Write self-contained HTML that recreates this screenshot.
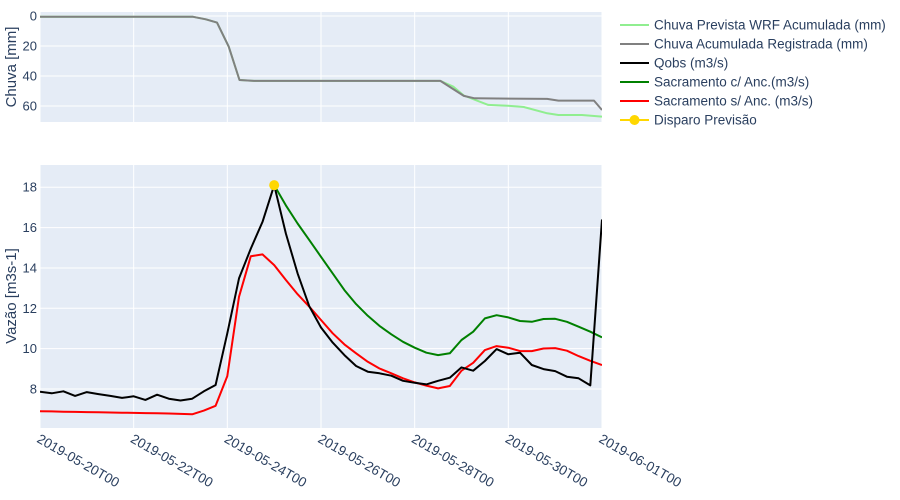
<!DOCTYPE html>
<html><head><meta charset="utf-8">
<style>
html,body{margin:0;padding:0;background:#fff;}
svg{display:block;font-family:"Liberation Sans",sans-serif;}
</style></head>
<body>
<svg id="chart" width="900" height="500" viewBox="0 0 900 500" xmlns="http://www.w3.org/2000/svg"></svg>
<script>
// ---------- data ----------
const xTickLabels = ["2019-05-20T00","2019-05-22T00","2019-05-24T00","2019-05-26T00","2019-05-28T00","2019-05-30T00","2019-06-01T00"];
const xTickDays = [0,2,4,6,8,10,12];
const topTicks = [0,20,40,60];
const bottomTicks = [8,10,12,14,16,18];

// flow series: 6-hourly from 2019-05-20T00 (day offset = index*0.25)
const qobs = [7.87,7.79,7.89,7.66,7.85,7.75,7.66,7.56,7.64,7.46,7.72,7.52,7.43,7.52,7.89,8.20,10.76,13.48,14.96,16.28,18.1,15.7,13.73,12.1,11.05,10.3,9.68,9.14,8.86,8.78,8.66,8.41,8.31,8.23,8.41,8.56,9.07,8.91,9.39,9.98,9.72,9.8,9.19,8.99,8.89,8.61,8.53,8.18,16.4];
const sacSemStart = 0;
const sacSem = [6.9,6.89,6.88,6.87,6.86,6.85,6.84,6.83,6.82,6.81,6.80,6.79,6.77,6.75,6.93,7.17,8.64,12.57,14.58,14.67,14.14,13.4,12.7,12.08,11.42,10.76,10.21,9.77,9.35,9.02,8.78,8.53,8.33,8.17,8.03,8.15,8.91,9.30,9.93,10.13,10.05,9.88,9.88,10.01,10.03,9.9,9.63,9.4,9.19];
const sacComStart = 20;
const sacCom = [18.1,17.1,16.2,15.38,14.55,13.73,12.9,12.21,11.63,11.13,10.71,10.34,10.05,9.8,9.68,9.77,10.43,10.84,11.5,11.66,11.55,11.37,11.33,11.47,11.48,11.33,11.09,10.84,10.56];
const triggerDay = [5];
const triggerValue = [18.1];

// rainfall (day offsets, accumulated mm)
const rainObsDays = [0,3.27,3.54,3.78,4.03,4.26,4.57,8.55,9.05,9.28,10.83,11.07,11.83,12];
const rainObs = [0.5,0.5,2.2,4.4,20.4,42.7,43.3,43.3,53.3,54.9,55.3,56.4,56.4,62.7];
const rainWrfDays = [0,3.27,3.54,3.78,4.03,4.26,4.57,8.55,8.82,9.05,9.57,9.99,10.33,10.83,11.07,11.57,12];
const rainWrf = [0.5,0.5,2.2,4.4,20.4,42.7,43.3,43.3,47,53,59.3,59.8,60.7,64.9,66,66,67.1];

// ---------- layout ----------
const NS="http://www.w3.org/2000/svg";
const svg=document.getElementById('chart');
const X0=40,X1=602;
const TOP={y0:12,y1:122,min:-2.7,max:70.7};
const BOT={y0:165,y1:428,min:6.07,max:19.1};
const xs=d=>X0+(X1-X0)*d/12;
const yTop=v=>TOP.y0+(v-TOP.min)/(TOP.max-TOP.min)*(TOP.y1-TOP.y0);
const yBot=v=>BOT.y1-(v-BOT.min)/(BOT.max-BOT.min)*(BOT.y1-BOT.y0);
function el(tag,attrs,parent){const e=document.createElementNS(NS,tag);for(const k in attrs)e.setAttribute(k,attrs[k]);(parent||svg).appendChild(e);return e;}

// backgrounds
const bgT=el('rect',{x:X0,y:TOP.y0,width:X1-X0,height:TOP.y1-TOP.y0,fill:'#E5ECF6'});


const bgB=el('rect',{x:X0,y:BOT.y0,width:X1-X0,height:BOT.y1-BOT.y0,fill:'#E5ECF6'});



// gridlines
xTickDays.forEach(d=>{
  const x=xs(d);
  const g1=el('line',{x1:x,x2:x,y1:TOP.y0,y2:TOP.y1,stroke:'#fff','stroke-width':1});
  
  
  const g2=el('line',{x1:x,x2:x,y1:BOT.y0,y2:BOT.y1,stroke:'#fff','stroke-width':1});
  
  
});
topTicks.forEach(v=>{
  const y=yTop(v);
  const g=el('line',{x1:X0,x2:X1,y1:y,y2:y,stroke:'#fff','stroke-width':1});
  
  
  const t=el('text',{x:37,y:y+4.5,'text-anchor':'end','font-size':13,fill:'#2a3f5f'});
  t.textContent=v;
  
  
});
bottomTicks.forEach(v=>{
  const y=yBot(v);
  const g=el('line',{x1:X0,x2:X1,y1:y,y2:y,stroke:'#fff','stroke-width':1});
  
  
  const t=el('text',{x:37,y:y+4.5,'text-anchor':'end','font-size':13,fill:'#2a3f5f'});
  t.textContent=v;
  
  
});
xTickDays.forEach((d,i)=>{
  const x=xs(d);
  const t=el('text',{x:x-2,y:442,'font-size':13.5,fill:'#2a3f5f',transform:`rotate(30 ${x-2} 438)`});
  t.textContent=xTickLabels[i];
  
  
});

// axis titles
const at1=el('text',{x:0,y:0,'font-size':15,fill:'#2a3f5f','text-anchor':'middle',transform:'translate(16,67) rotate(-90)'});
at1.textContent='Chuva [mm]';


const at2=el('text',{x:0,y:0,'font-size':15,fill:'#2a3f5f','text-anchor':'middle',transform:'translate(16,296) rotate(-90)'});
at2.textContent='Vazão [m3s-1]';



// series
function poly(days,vals,yf,color,name,clipId){
  const pts=days.map((d,i)=>xs(d).toFixed(1)+','+yf(vals[i]).toFixed(1)).join(' ');
  const p=el('polyline',{points:pts,fill:'none',stroke:color,'stroke-width':2,'stroke-linejoin':'round','clip-path':`url(#${clipId})`});
  
  
  return p;
}
const defs=el('defs',{});
const c1=el('clipPath',{id:'clipTop'},defs);el('rect',{x:X0,y:TOP.y0,width:X1-X0,height:TOP.y1-TOP.y0},c1);
const c2=el('clipPath',{id:'clipBot'},defs);el('rect',{x:X0,y:BOT.y0,width:X1-X0,height:BOT.y1-BOT.y0},c2);

poly(rainWrfDays,rainWrf,yTop,'#90EE90','rain-wrf-line','clipTop');
poly(rainObsDays,rainObs,yTop,'#808080','rain-observed-line','clipTop');
poly(sacSem.map((v,i)=>(sacSemStart+i)*0.25),sacSem,yBot,'#ff0000','sacramento-sem-line','clipBot');
poly(sacCom.map((v,i)=>(sacComStart+i)*0.25),sacCom,yBot,'#008000','sacramento-com-line','clipBot');
poly(qobs.map((v,i)=>i*0.25),qobs,yBot,'#000000','qobs-line','clipBot');
triggerDay.forEach((d,i)=>{
  const c=el('circle',{cx:xs(d),cy:yBot(triggerValue[i]),r:5,fill:'#FFD700'});
  
  
});

// legend
const legendNames=["Chuva Prevista WRF Acumulada (mm)","Chuva Acumulada Registrada (mm)","Qobs (m3/s)","Sacramento c/ Anc.(m3/s)","Sacramento s/ Anc. (m3/s)","Disparo Previsão"];
const legendColors=['#90EE90','#808080','#000000','#008000','#ff0000','#FFD700'];
legendNames.forEach((n,i)=>{
  const y=25+i*19;
  const g=el('g',{});
  
  
  el('line',{x1:620,x2:649,y1:y,y2:y,stroke:legendColors[i],'stroke-width':2},g);
  if(i===5) el('circle',{cx:634.5,cy:y,r:5,fill:'#FFD700'},g);
  const t=el('text',{x:654,y:y+4.5,'font-size':13.5,fill:'#2a3f5f'},g);
  t.textContent=n;
});
</script>
</body></html>
